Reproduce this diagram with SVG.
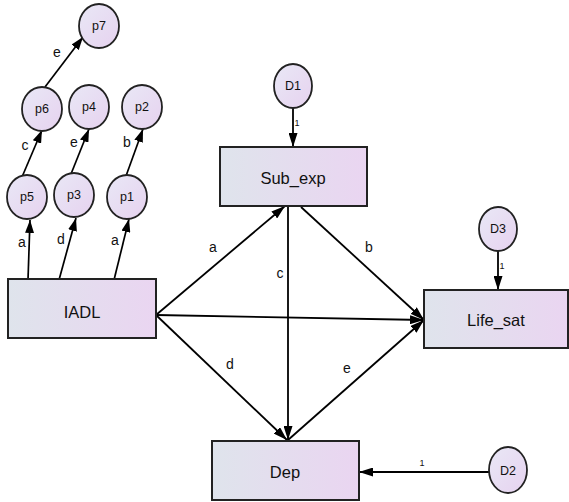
<svg xmlns="http://www.w3.org/2000/svg" width="569" height="502" viewBox="0 0 569 502">
<defs>
<linearGradient id="gb" x1="0" y1="0" x2="1" y2="0">
<stop offset="0" stop-color="#dfe4ec"/>
<stop offset="1" stop-color="#ead5f1"/>
</linearGradient>
<linearGradient id="gc" x1="0" y1="0" x2="1" y2="1">
<stop offset="0" stop-color="#e9e8f6"/>
<stop offset="1" stop-color="#e6d2ef"/>
</linearGradient>
<marker id="ah" viewBox="0 0 14 9" refX="14" refY="4.5" markerWidth="14" markerHeight="9" markerUnits="userSpaceOnUse" orient="auto">
<path d="M0,0 L14,4.5 L0,9 Z" fill="#000"/>
</marker>
<marker id="ahs" viewBox="0 0 13 9" refX="13" refY="4.5" markerWidth="13" markerHeight="9" markerUnits="userSpaceOnUse" orient="auto">
<path d="M0,0 L13,4.5 L0,9 Z" fill="#000"/>
</marker>
</defs>
<style>
.box{fill:url(#gb);stroke:#222;stroke-width:2}
.cir{fill:url(#gc);stroke:#222;stroke-width:1.8}
.bt{font-family:"Liberation Sans",Arial,sans-serif;font-size:16.5px;fill:#111;text-anchor:middle;dominant-baseline:central}
.ct{font-family:"Liberation Sans",Arial,sans-serif;font-size:12.5px;fill:#111;text-anchor:middle;dominant-baseline:central}
.lt{font-family:"Liberation Sans",Arial,sans-serif;font-size:14px;fill:#111;text-anchor:middle;dominant-baseline:central}
.st{font-family:"Liberation Sans",Arial,sans-serif;font-size:9px;fill:#111;text-anchor:middle;dominant-baseline:central}
.ln{stroke:#000;stroke-width:1.8;fill:none;marker-end:url(#ah)}
.ls{stroke:#000;stroke-width:1.7;fill:none;marker-end:url(#ahs)}
</style>
<g id="connectors">
<line class="ln" x1="156" y1="315" x2="285" y2="206"/>
<line class="ln" x1="156" y1="315" x2="424" y2="320"/>
<line class="ln" x1="156" y1="315" x2="287" y2="440"/>
<line class="ln" x1="288" y1="206" x2="288" y2="440"/>
<line class="ln" x1="301" y1="207" x2="424" y2="320"/>
<line class="ln" x1="288" y1="440" x2="424" y2="320"/>
<line class="ln" x1="293" y1="108" x2="293" y2="147"/>
<line class="ln" x1="498" y1="251" x2="498" y2="290"/>
<line class="ln" x1="490" y1="472" x2="359" y2="472"/>
<line class="ls" x1="28" y1="280" x2="30" y2="220"/>
<line class="ls" x1="59" y1="280" x2="76" y2="218"/>
<line class="ls" x1="114" y1="280" x2="129" y2="219"/>
<line class="ls" x1="22" y1="177" x2="42" y2="130"/>
<line class="ls" x1="71" y1="174" x2="89" y2="129"/>
<line class="ls" x1="126" y1="176" x2="143" y2="129"/>
<line class="ls" x1="45" y1="87" x2="83" y2="37"/>
<text class="lt" x="213" y="247">a</text>
<text class="lt" x="280" y="273">c</text>
<text class="lt" x="369" y="247">b</text>
<text class="lt" x="230" y="364">d</text>
<text class="lt" x="347" y="368">e</text>
<text class="st" x="297" y="123">1</text>
<text class="st" x="502" y="266">1</text>
<text class="st" x="422" y="463">1</text>
<text class="lt" x="22" y="242">a</text>
<text class="lt" x="61" y="239">d</text>
<text class="lt" x="115" y="240">a</text>
<text class="lt" x="25" y="145">c</text>
<text class="lt" x="74" y="142">e</text>
<text class="lt" x="127" y="142">b</text>
<text class="lt" x="57" y="52">e</text>
</g>
<g id="IADL"><rect class="box" x="8" y="279" width="148" height="59"/><text class="bt" x="82" y="312">IADL</text></g>
<g id="Sub_exp"><rect class="box" x="220" y="147" width="147" height="59"/><text class="bt" x="293" y="178">Sub_exp</text></g>
<g id="Life_sat"><rect class="box" x="424" y="290" width="144" height="58"/><text class="bt" x="496" y="320">Life_sat</text></g>
<g id="Dep"><rect class="box" x="212" y="441" width="147" height="59"/><text class="bt" x="285" y="472">Dep</text></g>
<g id="D1"><ellipse class="cir" cx="293" cy="86" rx="19" ry="22"/><text class="ct" x="293" y="86">D1</text></g>
<g id="D3"><ellipse class="cir" cx="498" cy="229" rx="19" ry="22"/><text class="ct" x="498" y="229">D3</text></g>
<g id="D2"><ellipse class="cir" cx="508" cy="470" rx="19" ry="23"/><text class="ct" x="508" y="471">D2</text></g>
<g id="p7"><ellipse class="cir" cx="99" cy="26" rx="20" ry="22"/><text class="ct" x="99" y="26">p7</text></g>
<g id="p6"><ellipse class="cir" cx="42" cy="109" rx="20" ry="22"/><text class="ct" x="42" y="109">p6</text></g>
<g id="p4"><ellipse class="cir" cx="89" cy="107" rx="20" ry="22"/><text class="ct" x="89" y="107">p4</text></g>
<g id="p2"><ellipse class="cir" cx="142" cy="107" rx="20" ry="22"/><text class="ct" x="142" y="107">p2</text></g>
<g id="p5"><ellipse class="cir" cx="27" cy="197" rx="20" ry="22"/><text class="ct" x="27" y="197">p5</text></g>
<g id="p3"><ellipse class="cir" cx="74" cy="195" rx="20" ry="22"/><text class="ct" x="74" y="195">p3</text></g>
<g id="p1"><ellipse class="cir" cx="127" cy="197" rx="20" ry="22"/><text class="ct" x="127" y="197">p1</text></g>
</svg>
